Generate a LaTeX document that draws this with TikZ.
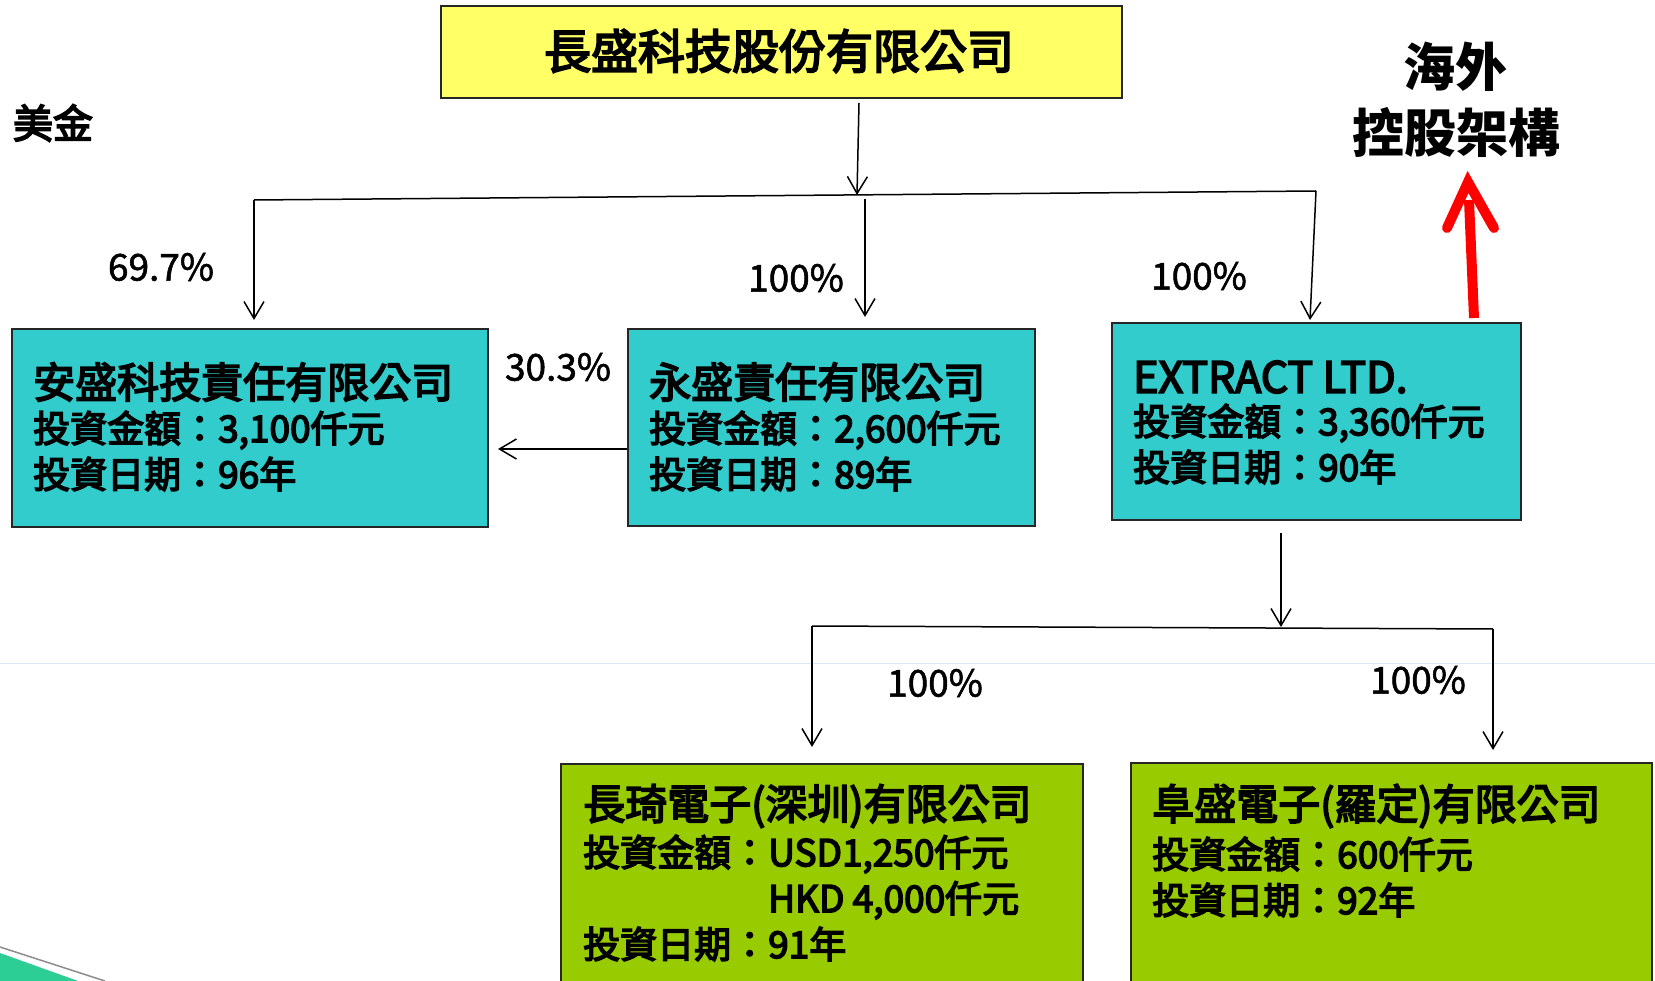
\documentclass[tikz,border=0pt]{standalone}
\usepackage{fontspec}
\setmainfont{Noto Sans CJK TC}
\newfontfamily\medfont{Noto Sans CJK TC}[FakeBold=4]
\newfontfamily\lightmed{Noto Sans CJK TC}[FakeBold=1.5]
\usetikzlibrary{arrows.meta}
\definecolor{ybg}{RGB}{255,255,102}
\definecolor{cbg}{RGB}{51,204,204}
\definecolor{gbg}{RGB}{153,204,0}
\definecolor{swoosh}{RGB}{45,205,150}
\definecolor{faint}{RGB}{218,234,244}
\tikzset{
  boxbase/.style={draw=black!85, line width=1.6pt, anchor=north west, inner sep=0pt},
  ybox/.style={boxbase, fill=ybg},
  cbox/.style={boxbase, fill=cbg},
  gbox/.style={boxbase, fill=gbg},
  conn/.style={line width=1.5pt, draw=black},
  arr/.style={conn, -{Straight Barb[length=17pt,width=20pt,line width=1.5pt]}},
  pct/.style={font=\lightmed\fontsize{37}{44}\selectfont, inner sep=0pt},
  lineone/.style={font=\medfont\fontsize{42}{50}\selectfont, anchor=west, inner sep=0pt},
  linetwo/.style={font=\medfont\fontsize{37}{44}\selectfont, anchor=west, inner sep=0pt},
  bigtitle/.style={font=\medfont\fontsize{47}{56}\selectfont, inner sep=0pt},
  sidetitle/.style={font=\bfseries\fontsize{52}{60}\selectfont, inner sep=0pt},
}
\begin{document}
\begin{tikzpicture}[x=1pt,y=-1pt]
\useasboundingbox[fill=white] (0,0) rectangle (1655,981);
% faint background line and swoosh
\draw[faint, line width=1pt] (0,663) -- (1655,663);
\fill[swoosh] (0,953) -- (78,981) -- (0,981) -- cycle;
\draw[black!45, line width=1.5pt] (0,947) -- (105,981);

% boxes
\node[ybox, minimum width=681pt, minimum height=92pt] (top) at (440,5) {};
\node[bigtitle] (toptxt) at (779,51) {長盛科技股份有限公司};

\node[cbox, minimum width=476pt, minimum height=198pt] (A) at (11,328) {};
\node[lineone] (A1) at (33,382) {安盛科技責任有限公司};
\node[linetwo] (A2) at (33,430) {投資金額：3,100仟元};
\node[linetwo] (A3) at (33,474) {投資日期：96年};

\node[cbox, minimum width=407pt, minimum height=197pt] (B) at (627,328) {};
\node[lineone] (B1) at (649,382) {永盛責任有限公司};
\node[linetwo] (B2) at (649,430) {投資金額：2,600仟元};
\node[linetwo] (B3) at (649,474) {投資日期：89年};

\node[cbox, minimum width=409pt, minimum height=197pt] (C) at (1111,322) {};
\node[lineone, font=\medfont\fontsize{43}{50}\selectfont] (C1) at (1133,377) {EXTRACT LTD.};
\node[linetwo] (C2) at (1133,423) {投資金額：3,360仟元};
\node[linetwo] (C3) at (1133,467) {投資日期：90年};

\node[gbox, minimum width=522pt, minimum height=240pt] (D) at (560,763) {};
\node[lineone] (D1) at (583,806) {長琦電子(深圳)有限公司};
\node[linetwo] (D2) at (583,854) {投資金額：USD1,250仟元};
\node[linetwo] (D3) at (583,900) {\phantom{投資金額：}HKD 4,000仟元};
\node[linetwo] (D4) at (583,944) {投資日期：91年};

\node[gbox, minimum width=521pt, minimum height=240pt] (E) at (1130,762) {};
\node[lineone] (E1) at (1152,806) {阜盛電子(羅定)有限公司};
\node[linetwo] (E2) at (1152,854) {投資金額：600仟元};
\node[linetwo] (E3) at (1152,900) {投資日期：92年};

% side labels
\node[font=\medfont\fontsize{40}{48}\selectfont, inner sep=0pt] (usd) at (53,123) {美金};
\node[sidetitle] (side1) at (1455,67) {海外};
\node[sidetitle] (side2) at (1456,132) {控股架構};

% connector coordinates
\coordinate (topout) at (859,103);
\coordinate (hubL) at (254,200);
\coordinate (hubM) at (857,195);
\coordinate (hubR) at (1316,191);
\coordinate (midstart) at (865,199);
\coordinate (Ain) at (254,320);
\coordinate (Bin) at (865,317);
\coordinate (Cin) at (1310,320);
\coordinate (Bout) at (627,449);
\coordinate (Aside) at (498,449);
\coordinate (Cout) at (1281,533);
\coordinate (hub2M) at (1281,627);
\coordinate (hub2L) at (812,626);
\coordinate (hub2R) at (1493,629);
\coordinate (Din) at (812,747);
\coordinate (Ein) at (1493,750);

\draw[arr] (topout) -- (hubM);
\draw[conn] (hubL) -- (hubR);
\draw[arr] (hubL) -- (Ain);
\draw[arr] (hubR) -- (Cin);
\draw[arr] (midstart) -- (Bin);
\draw[arr] (Bout) -- (Aside);
\draw[arr] (Cout) -- (hub2M);
\draw[conn] (hub2L) -- (hub2R);
\draw[arr] (hub2L) -- (Din);
\draw[arr] (hub2R) -- (Ein);

% percentage labels
\node[pct] (p1) at (161,267) {69.7\%};
\node[pct] (p2) at (796,278) {100\%};
\node[pct] (p3) at (1199,276) {100\%};
\node[pct] (p4) at (558,367) {30.3\%};
\node[pct] (p5) at (935,683) {100\%};
\node[pct] (p6) at (1418,680) {100\%};

% red arrow
\coordinate (redbase) at (1474,318);
\coordinate (redtip) at (1468,182);
\draw[red, line width=10pt] (redbase) -- (1469,200);
\draw[red, line width=10pt, line cap=round, line join=miter] (1447,228) -- (redtip) -- (1494,228);
\end{tikzpicture}
\end{document}
